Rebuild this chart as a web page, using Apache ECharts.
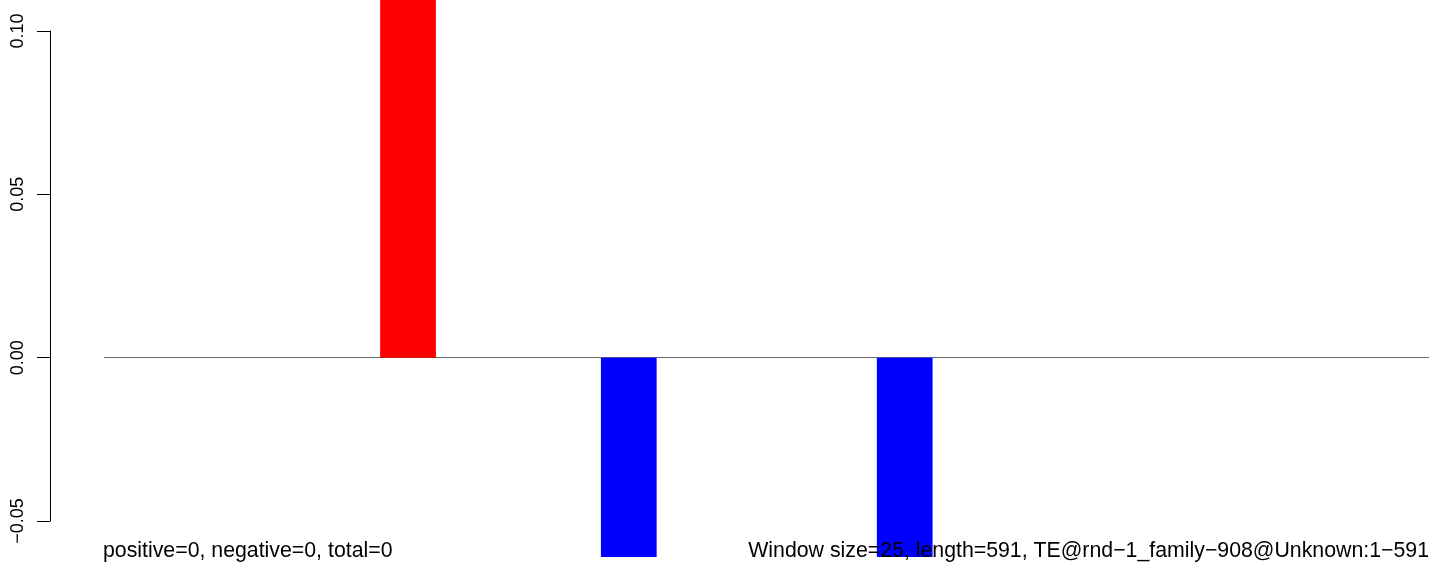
<!DOCTYPE html>
<html><head><meta charset="utf-8">
<script src="https://cdn.jsdelivr.net/npm/echarts@6/dist/echarts.min.js"></script>
<style>html,body{margin:0;padding:0;background:#fff}#c{width:1429px;height:564px}</style>
</head><body><div id="c"></div>
<script>
// 24 windows (length 591 / window size 25)
const windows = Array.from({length:24},(_,i)=>String(i+1));
// window values (bars beyond the visible range are clipped in the reference)
const values = [0,0,0,0,0,0.13,0,0,0,-0.07,0,0,0,0,-0.07,0,0,0,0,0,0,0,0,0];
const barColors = values.map(v => v>0 ? '#FF0000' : '#0000FF');
const yTicks = [-0.05, 0.00, 0.05, 0.10];
const leftText = 'positive=0, negative=0, total=0';
const rightText = 'Window size=25, length=591, TE@rnd\u22121_family\u2212908@Unknown:1\u2212591';

const FONT = '"Liberation Sans", Arial, Helvetica, sans-serif';
const axTop = 31, axH = 490, yMin = yTicks[0], yMax = yTicks[yTicks.length-1];
const pxPerUnit = axH/(yMax-yMin);
const plotBottom = 557;
const bMax = yMax + axTop/pxPerUnit;
const bMin = yMin - (plotBottom-(axTop+axH))/pxPerUnit;

const chart = echarts.init(document.getElementById('c'), null, {renderer:'canvas'});
chart.setOption({
  animation:false,
  backgroundColor:'#fff',
  grid:[
    {left:104.5, top:0, height:plotBottom, width:1328, containLabel:false},
    {left:50, top:axTop, height:axH, width:10, containLabel:false}
  ],
  xAxis:[
    {type:'category', gridIndex:0, data:windows, boundaryGap:true,
     axisLine:{show:true, onZero:true, lineStyle:{color:'#666', width:1}},
     axisTick:{show:false}, axisLabel:{show:false}, splitLine:{show:false}},
    {type:'value', gridIndex:1, show:false}
  ],
  yAxis:[
    {type:'value', gridIndex:0, min:bMin, max:bMax, show:false, splitLine:{show:false}},
    {type:'value', gridIndex:1, min:yMin, max:yMax, interval:0.05,
     axisLine:{show:true, lineStyle:{color:'#000', width:1}},
     axisTick:{show:true, length:13, inside:false, lineStyle:{color:'#000', width:1}},
     splitLine:{show:false},
     axisLabel:{show:true, rotate:90, margin:23, color:'#000', fontSize:18, fontFamily:FONT,
       formatter:v => (v<-1e-9?'\u2212':'') + Math.abs(v).toFixed(2)}}
  ],
  series:[{
    type:'bar', xAxisIndex:0, yAxisIndex:0, barWidth:'101%', clip:true,
    data: values.map((v,i)=>({value:v, itemStyle:{color:barColors[i]}}))
  }],
  graphic:[
    {type:'text', left:103, top:541, z:100, style:{text:leftText, font:'21.3px '+FONT, fill:'#000'}},
    {type:'text', right:0, top:541, z:100, style:{text:rightText, font:'21.3px '+FONT, fill:'#000'}}
  ]
});
</script></body></html>
